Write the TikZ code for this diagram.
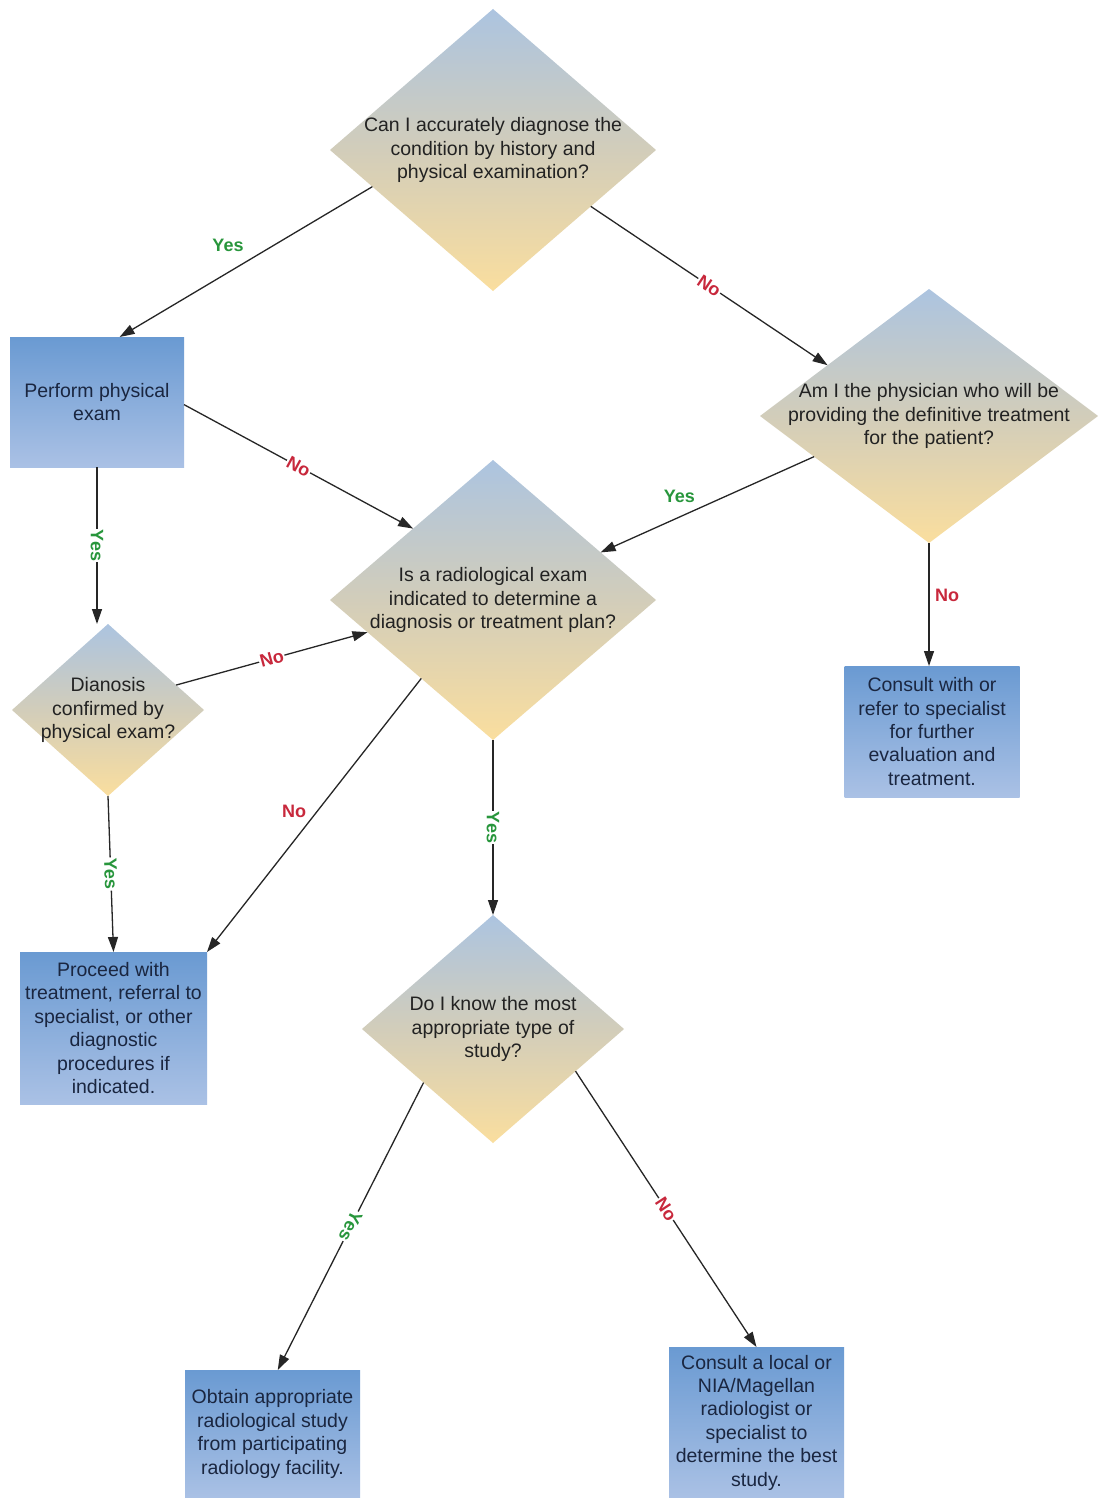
\documentclass[tikz,border=0pt]{standalone}
\usepackage{fontspec}
\setmainfont{Liberation Sans}
\usetikzlibrary{shapes.geometric,arrows.meta,calc}
\definecolor{diaTop}{RGB}{172,196,224}
\definecolor{diaMid}{RGB}{210,205,186}
\definecolor{diaBot}{RGB}{250,222,158}
\definecolor{boxTop}{RGB}{106,154,210}
\definecolor{boxBot}{RGB}{170,193,229}
\definecolor{yesC}{RGB}{40,150,60}
\definecolor{noC}{RGB}{200,40,60}
\definecolor{dTxt}{RGB}{34,34,34}
\definecolor{bTxt}{RGB}{26,38,64}
\begin{document}
\begin{tikzpicture}[x=1pt,y=-1pt,
  decision/.style={diamond, draw=none, inner sep=0pt, outer sep=0pt,
    top color=diaTop, bottom color=diaBot, middle color=diaMid},
  dtext/.style={align=center, text=dTxt, font=\fontsize{19.5}{23.4}\selectfont, inner sep=0pt},
  procbox/.style={rectangle, draw=none, inner sep=0pt, outer sep=0pt,
    top color=boxTop, bottom color=boxBot, align=center, text=bTxt,
    font=\fontsize{19.5}{23.4}\selectfont},
  conn/.style={draw=black!85, line width=1.3pt, -{Triangle[length=15pt,width=10pt]}},
  yl/.style={font=\fontsize{18}{18}\selectfont\bfseries, text=yesC, fill=white, inner sep=1pt, sloped, allow upside down},
  nl/.style={font=\fontsize{18}{18}\selectfont\bfseries, text=noC, fill=white, inner sep=1pt, sloped, allow upside down},
  ylo/.style={font=\fontsize{18}{18}\selectfont\bfseries, text=yesC, inner sep=1pt},
  nlo/.style={font=\fontsize{18}{18}\selectfont\bfseries, text=noC, inner sep=1pt}
]
\fill[white] (0,0) rectangle (1097,1498);
\useasboundingbox (0,0) rectangle (1097,1498);

% decisions
\node[decision, minimum width=326pt, minimum height=282pt,
  label={[dtext]center:{Can I accurately diagnose the\\condition by history and\\physical examination?}}] (d1) at (493,150) {};
\node[decision, minimum width=338pt, minimum height=254pt,
  label={[dtext]center:{Am I the physician who will be\\providing the definitive treatment\\for the patient?}}] (d2) at (929,416) {};
\node[decision, minimum width=326pt, minimum height=280pt,
  label={[dtext]center:{Is a radiological exam\\indicated to determine a\\diagnosis or treatment plan?}}] (d3) at (493,600) {};
\node[decision, minimum width=192pt, minimum height=172pt,
  label={[dtext]center:{Dianosis\\confirmed by\\physical exam?}}] (d4) at (108,710) {};
\node[decision, minimum width=262pt, minimum height=228pt,
  label={[dtext]center:{Do I know the most\\appropriate type of\\study?}}] (d5) at (493,1029) {};

% process boxes
\node[procbox, minimum width=174pt, minimum height=130pt] (perf) at (97,402) {Perform physical\\exam};
\node[procbox, minimum width=175pt, minimum height=131pt] (cons1) at (932,731.5) {Consult with or\\refer to specialist\\for further\\evaluation and\\treatment.};
\node[procbox, minimum width=187pt, minimum height=152pt] (proc) at (113.5,1028) {Proceed with\\treatment, referral to\\specialist, or other\\diagnostic\\procedures if\\indicated.};
\node[procbox, minimum width=175pt, minimum height=128pt] (obt) at (272.5,1434) {Obtain appropriate\\radiological study\\from participating\\radiology facility.};
\node[procbox, minimum width=175pt, minimum height=151pt] (cons2) at (756.5,1422.5) {Consult a local or\\NIA/Magellan\\radiologist or\\specialist to\\determine the best\\study.};

% connectors
\draw[conn] ($(d1.west)!0.26!(d1.south)$) -- node[ylo, xshift=-18pt, yshift=16pt]{Yes} ($(perf.north west)!0.63!(perf.north east)$);
\draw[conn] ($(d1.east)!0.40!(d1.south)$) -- node[nl]{No} ($(d2.west)!0.4!(d2.north)$);
\draw[conn] ($(perf.north east)!0.52!(perf.south east)$) -- node[nl]{No} ($(d3.west)!0.51!(d3.north)$);
\draw[conn] (perf.south) -- node[yl]{Yes} (perf.south |- d4.north);
\draw[conn] ($(d2.west)!0.32!(d2.south)$) -- node[ylo, xshift=-28pt, yshift=8pt]{Yes} ($(d3.east)!0.34!(d3.north)$);
\draw[conn] (d2.south) -- node[nlo, xshift=18pt, yshift=9pt]{No} (d2.south |- cons1.north);
\draw[conn] ($(d4.east)!0.29!(d4.north)$) -- node[nl]{No} ($(d3.west)!0.23!(d3.south)$);
\draw[conn] (d4.south) -- node[yl]{Yes} (proc.north);
\draw[conn] ($(d3.west)!0.56!(d3.south)$) -- node[nlo, xshift=-20pt, yshift=4pt]{No} (proc.north east);
\draw[conn] (d3.south) -- node[yl]{Yes} (d5.north);
\draw[conn] ($(d5.west)!0.47!(d5.south)$) -- node[yl]{Yes} ($(obt.north west)!0.53!(obt.north east)$);
\draw[conn] ($(d5.east)!0.37!(d5.south)$) -- node[nl]{No} (cons2.north);
\end{tikzpicture}
\end{document}
